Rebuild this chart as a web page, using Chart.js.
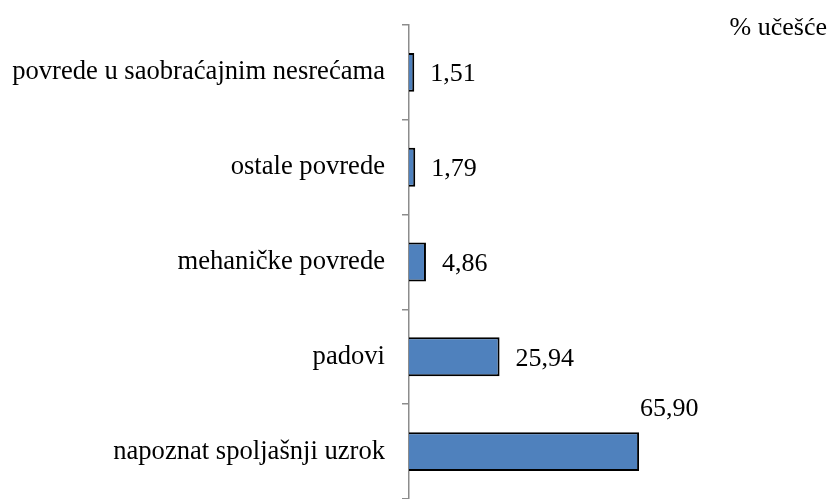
<!DOCTYPE html>
<html>
<head>
<meta charset="utf-8">
<script src="https://cdn.jsdelivr.net/npm/chart.js@4.4.1/dist/chart.umd.min.js"></script>
<style>
  html, body { margin: 0; padding: 0; background: #fff; }
  #wrap { width: 831px; height: 499px; }
</style>
</head>
<body>
<div id="wrap"><canvas id="chart"></canvas></div>
<script>
const categories = [
  'povrede u saobraćajnim nesrećama',
  'ostale povrede',
  'mehaničke povrede',
  'padovi',
  'napoznat spoljašnji uzrok'
];
const shares = [1.51, 1.79, 4.86, 25.94, 65.90];
const unitLabel = '% učešće';

const FONT = '"Liberation Serif", "Times New Roman", serif';
const FONT_SIZE = 26;
const TICK_FONT_SIZE = 26.6;

function fmt(v) {
  return v.toFixed(2).replace('.', ',');
}

// value labels beside bars; the longest bar gets its label above the end
const valueLabels = {
  id: 'valueLabels',
  afterDatasetsDraw(chart) {
    const ctx = chart.ctx;
    const meta = chart.getDatasetMeta(0);
    const data = chart.data.datasets[0].data;
    const maxIdx = data.indexOf(Math.max(...data));
    ctx.save();
    ctx.font = FONT_SIZE + 'px ' + FONT;
    ctx.fillStyle = '#000';
    ctx.textBaseline = 'middle';
    ctx.textAlign = 'left';
    meta.data.forEach((bar, i) => {
      if (i === maxIdx) {
        ctx.fillText(fmt(data[i]), bar.x + 1, bar.y - 42);
      } else {
        ctx.fillText(fmt(data[i]), bar.x + 16, bar.y + 2);
      }
    });
    ctx.textAlign = 'right';
    ctx.fillText(unitLabel, 827, 28);
    ctx.restore();
  }
};

new Chart(document.getElementById('chart'), {
  type: 'bar',
  data: {
    labels: categories,
    datasets: [{
      data: shares,
      backgroundColor: '#4F81BD',
      borderColor: '#000',
      borderWidth: 2,
      borderSkipped: 'left',
      categoryPercentage: 1,
      barPercentage: 0.41
    }]
  },
  options: {
    indexAxis: 'y',
    responsive: true,
    maintainAspectRatio: false,
    animation: false,
    layout: { padding: { top: 25, right: 3, bottom: -3, left: 0 } },
    plugins: {
      legend: { display: false },
      tooltip: { enabled: false }
    },
    scales: {
      x: {
        display: false,
        min: 0,
        max: 120
      },
      y: {
        afterFit(scale) {
          // fixed axis width, and no extra room above/below for tick labels
          scale.width = 409;
          scale.paddingTop = 0;
          scale.paddingBottom = 0;
        },
        border: { color: '#8C8C8C', width: 1.5 },
        grid: {
          offset: true,
          drawOnChartArea: false,
          tickLength: 7,
          color: '#8C8C8C',
          lineWidth: 1.5
        },
        ticks: {
          padding: 17,
          color: '#000',
          font: { family: FONT, size: TICK_FONT_SIZE }
        }
      }
    }
  },
  plugins: [valueLabels]
});
</script>
</body>
</html>
